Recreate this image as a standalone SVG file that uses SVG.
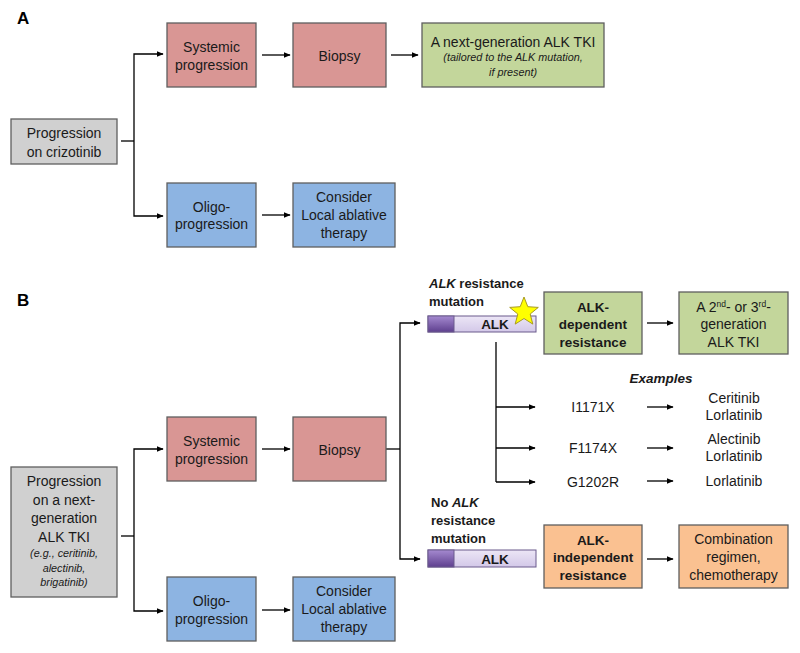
<svg xmlns="http://www.w3.org/2000/svg" width="800" height="653" viewBox="0 0 800 653">
<style>
text{font-family:"Liberation Sans",Arial,sans-serif;font-size:14px;fill:#1a1a1a;text-anchor:middle}
.lbl{font-size:17px;font-weight:bold;text-anchor:start;fill:#000}
.sm{font-size:10.8px;font-style:italic}
.b{font-weight:bold;font-size:13.5px}
.st{text-anchor:start;font-weight:bold;font-size:13px}
.box{stroke:#5f5f5f;stroke-width:1.3}
.red{fill:#d99694}
.blue{fill:#8db4e2}
.green{fill:#c3d69b}
.orange{fill:#fac191}
.gray{fill:#d0d0d0}
.ln{fill:none;stroke:#000;stroke-width:1.3}
.ar{fill:none;stroke:#000;stroke-width:1.3;marker-end:url(#ah)}
</style>
<defs>
<marker id="ah" viewBox="0 0 10 10" refX="9" refY="5" markerWidth="7" markerHeight="7" markerUnits="userSpaceOnUse" orient="auto">
<path d="M0,1 L10,5 L0,9 z" fill="#000"/>
</marker>
<linearGradient id="gd" x1="0" y1="0" x2="0" y2="1">
<stop offset="0" stop-color="#a58ad0"/><stop offset="1" stop-color="#5e3f8e"/>
</linearGradient>
<linearGradient id="gl" x1="0" y1="0" x2="0" y2="1">
<stop offset="0" stop-color="#ece6f6"/><stop offset="1" stop-color="#d3c8e8"/>
</linearGradient>
</defs>
<rect width="800" height="653" fill="#fff"/>

<text class="lbl" x="17" y="24">A</text>
<text class="lbl" x="17" y="306">B</text>

<g id="connectors">
<!-- Panel A -->
<path class="ln" d="M121,141 H134"/>
<path class="ar" d="M134,141 V54 H163"/>
<path class="ar" d="M134,141 V216 H163"/>
<path class="ar" d="M262,55 H290"/>
<path class="ar" d="M391,55 H418"/>
<path class="ar" d="M262,215 H290"/>
<!-- Panel B -->
<path class="ln" d="M121,536 H134"/>
<path class="ar" d="M134,536 V449 H163"/>
<path class="ar" d="M134,536 V611 H163"/>
<path class="ar" d="M262,449 H290"/>
<path class="ar" d="M262,610 H290"/>
<path class="ln" d="M386,449 H400"/>
<path class="ar" d="M400,449 V323 H420"/>
<path class="ar" d="M400,449 V559 H420"/>
<path class="ar" d="M647,323 H673"/>
<path class="ar" d="M647,559 H673"/>
<path class="ln" d="M496,342 V482"/>
<path class="ar" d="M496,407 H535"/>
<path class="ar" d="M496,448 H535"/>
<path class="ar" d="M496,482 H535"/>
<path class="ar" d="M647,407 H673"/>
<path class="ar" d="M647,448 H673"/>
<path class="ar" d="M647,481 H673"/>
</g>

<!-- Panel A nodes -->
<g id="a-progression">
<rect class="box gray" x="11" y="119" width="106" height="45"/>
<text x="64" y="138">Progression</text>
<text x="64" y="157">on crizotinib</text>
</g>
<g id="a-systemic">
<rect class="box red" x="167" y="23" width="89" height="64"/>
<text x="211.5" y="52">Systemic</text>
<text x="211.5" y="70">progression</text>
</g>
<g id="a-biopsy">
<rect class="box red" x="293" y="23" width="93" height="64"/>
<text x="339.5" y="61">Biopsy</text>
</g>
<g id="a-nextgen">
<rect class="box green" x="422" y="23" width="182" height="64"/>
<text x="513" y="47">A next-generation ALK TKI</text>
<text class="sm" x="513" y="61">(tailored to the ALK mutation,</text>
<text class="sm" x="513" y="76">if present)</text>
</g>
<g id="a-oligo">
<rect class="box blue" x="167" y="183" width="89" height="64"/>
<text x="211.5" y="212">Oligo-</text>
<text x="211.5" y="229">progression</text>
</g>
<g id="a-local">
<rect class="box blue" x="293" y="183" width="102" height="64"/>
<text x="344" y="202">Consider</text>
<text x="344" y="220">Local ablative</text>
<text x="344" y="238">therapy</text>
</g>

<!-- Panel B nodes -->
<g id="b-progression">
<rect class="box gray" x="11" y="467" width="106" height="130"/>
<text x="64" y="486">Progression</text>
<text x="64" y="505">on a next-</text>
<text x="64" y="523">generation</text>
<text x="64" y="542">ALK TKI</text>
<text class="sm" x="64" y="557">(e.g., ceritinib,</text>
<text class="sm" x="64" y="572">alectinib,</text>
<text class="sm" x="64" y="586">brigatinib)</text>
</g>
<g id="b-systemic">
<rect class="box red" x="167" y="417" width="89" height="64"/>
<text x="211.5" y="446">Systemic</text>
<text x="211.5" y="464">progression</text>
</g>
<g id="b-biopsy">
<rect class="box red" x="293" y="417" width="93" height="64"/>
<text x="339.5" y="455">Biopsy</text>
</g>
<g id="b-oligo">
<rect class="box blue" x="167" y="577" width="89" height="64"/>
<text x="211.5" y="606">Oligo-</text>
<text x="211.5" y="624">progression</text>
</g>
<g id="b-local">
<rect class="box blue" x="293" y="577" width="102" height="64"/>
<text x="344" y="596">Consider</text>
<text x="344" y="614">Local ablative</text>
<text x="344" y="632">therapy</text>
</g>

<g id="b-alk-mut">
<text class="st" x="429" y="288"><tspan font-style="italic">ALK</tspan> resistance</text>
<text class="st" x="429" y="306">mutation</text>
<rect x="428" y="316" width="108" height="16" fill="url(#gl)" stroke="#6b5a8c" stroke-width="1"/>
<rect x="428" y="316" width="26" height="16" fill="url(#gd)" stroke="#6b5a8c" stroke-width="1"/>
<text class="b" x="495" y="329" font-size="13">ALK</text>
<polygon points="524,297 527.8,306.7 538.3,307.4 530.2,314 532.8,324.1 524,318.5 515.2,324.1 517.8,314 509.7,307.4 520.2,306.7" fill="#ffff00" stroke="#a89a20" stroke-width="1"/>
</g>
<g id="b-alk-dep">
<rect class="box green" x="544" y="292" width="98" height="62"/>
<text class="b" x="593" y="312">ALK-</text>
<text class="b" x="593" y="329">dependent</text>
<text class="b" x="593" y="347">resistance</text>
</g>
<g id="b-2nd3rd">
<rect class="box green" x="679" y="292" width="109" height="62"/>
<text x="733.5" y="312">A 2<tspan font-size="8.5" baseline-shift="super">nd</tspan>- or 3<tspan font-size="8.5" baseline-shift="super">rd</tspan>-</text>
<text x="733.5" y="329">generation</text>
<text x="733.5" y="347">ALK TKI</text>
</g>
<g id="b-examples">
<text class="b" x="661" y="383" font-style="italic" font-size="13">Examples</text>
<text x="593" y="412" font-size="12">I1171X</text>
<text x="593" y="453" font-size="12">F1174X</text>
<text x="593" y="487" font-size="12">G1202R</text>
<text x="734" y="403" font-size="12">Ceritinib</text>
<text x="734" y="420" font-size="12">Lorlatinib</text>
<text x="734" y="444" font-size="12">Alectinib</text>
<text x="734" y="461" font-size="12">Lorlatinib</text>
<text x="734" y="486" font-size="12">Lorlatinib</text>
</g>
<g id="b-no-alk">
<text class="st" x="431" y="507">No <tspan font-style="italic">ALK</tspan></text>
<text class="st" x="431" y="525">resistance</text>
<text class="st" x="431" y="543">mutation</text>
<rect x="428" y="550" width="108" height="17" fill="url(#gl)" stroke="#6b5a8c" stroke-width="1"/>
<rect x="428" y="550" width="26" height="17" fill="url(#gd)" stroke="#6b5a8c" stroke-width="1"/>
<text class="b" x="495" y="563.5" font-size="13">ALK</text>
</g>
<g id="b-alk-indep">
<rect class="box orange" x="544" y="525" width="98" height="63"/>
<text class="b" x="593" y="545">ALK-</text>
<text class="b" x="593" y="562">independent</text>
<text class="b" x="593" y="580">resistance</text>
</g>
<g id="b-combination">
<rect class="box orange" x="679" y="525" width="109" height="63"/>
<text x="733.5" y="544">Combination</text>
<text x="733.5" y="562">regimen,</text>
<text x="733.5" y="580">chemotherapy</text>
</g>
</svg>
